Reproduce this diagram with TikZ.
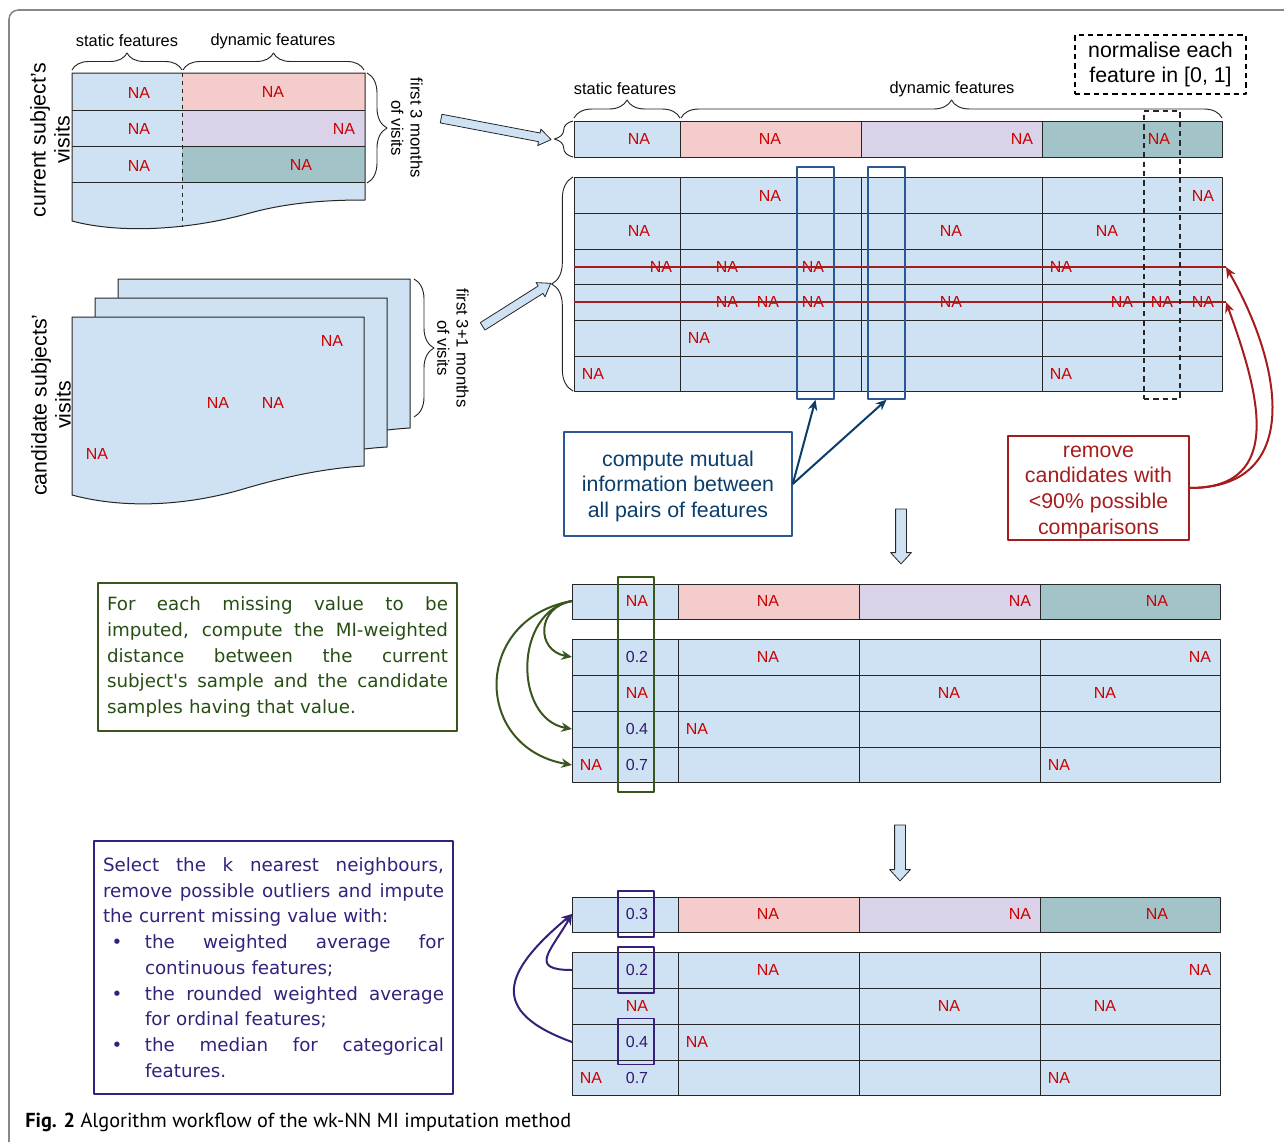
\documentclass[tikz,border=0pt]{standalone}
\usepackage{fontspec}
\setmainfont{Liberation Sans}
\newfontfamily\boxfont{DejaVu Sans}
\newfontfamily\capfont{PT Sans}
\usetikzlibrary{arrows.meta,shapes.arrows,decorations.pathreplacing}
\definecolor{cellblue}{HTML}{CFE2F3}
\definecolor{cellpink}{HTML}{F4CCCC}
\definecolor{celllav}{HTML}{D9D2E9}
\definecolor{cellteal}{HTML}{A2C4C9}
\definecolor{nared}{HTML}{CC0000}
\definecolor{valpurple}{HTML}{2E1A6E}
\definecolor{miblue}{HTML}{2B5797}
\definecolor{midark}{HTML}{0B3D6B}
\definecolor{rmred}{HTML}{A61C1C}
\definecolor{dgreen}{HTML}{38561D}
\definecolor{dgreentext}{HTML}{274E13}
\definecolor{knnpurple}{HTML}{35207A}
\definecolor{framegrey}{HTML}{888888}
\newcommand{\fullline}[1]{\leavevmode\hbox to \hsize{\spaceskip=.32em plus 2em\relax #1}}
\newcommand{\bulletline}[1]{\leavevmode\hbox to \hsize{\spaceskip=.32em plus 2em\relax\hbox to 31.5pt{\hspace{6.5pt}\textbullet\hfil}#1}}
\begin{document}
\begin{tikzpicture}[x=0.75pt, y=0.75pt, line join=round,
	grid/.style={draw=black!85, line width=0.75pt},
	na/.style={text=nared, font=\fontsize{12}{12}\selectfont, inner sep=0pt},
	val/.style={text=valpurple, font=\fontsize{12}{12}\selectfont, inner sep=0pt},
	lbl/.style={font=\fontsize{12.3}{14}\selectfont, inner sep=0pt},
	sidelbl/.style={font=\fontsize{16}{18}\selectfont, align=center, rotate=90, inner sep=0pt},
	monthlbl/.style={font=\fontsize{12.5}{14.5}\selectfont, align=center, rotate=-90, inner sep=0pt},
	brc/.style={decorate, decoration={brace, amplitude=#1}, draw=black!85, line width=0.7pt},
	brc/.default=13pt,
	fatarrow/.style={single arrow, draw=black!85, fill=cellblue, line width=0.6pt, inner xsep=0pt, inner ysep=3pt, single arrow head extend=3pt, single arrow tip angle=70, minimum width=0pt},
	downarrow/.style={fatarrow, inner ysep=3.75pt, single arrow head extend=3.75pt, single arrow tip angle=85, rotate=-90},
	colbox/.style={draw=#1, line width=1.1pt, minimum width=27pt, inner sep=0pt},
	textbox/.style={draw=#1, text=#1, line width=1.1pt, align=center, font=\fontsize{16}{19.3}\selectfont},
	parabox/.style={draw=#1, line width=1.1pt, align=left, font=\boxfont\fontsize{13.7}{19.3}\selectfont, text width=255.75pt, inner xsep=6.75pt},
	link/.style={draw=#1, line width=1.5pt, -{Stealth[length=8pt,width=7pt]}}
	]
	\useasboundingbox (0,0) rectangle (1284,-1142);
	\draw[framegrey, line width=1.2pt, rounded corners=7pt] (9,-1142) -- (9,-10) -- (1284,-10);
	
	\fill[cellblue] (72,-73) -- (365,-73) -- (365,-200) .. controls (330,-200) and (290,-202) .. (250,-213) .. controls (190,-230) and (120,-234) .. (72,-221) -- cycle;
	\foreach \ya/\yb/\cl in {73/110/cellpink,110/146/celllav,146/182/cellteal}
	\fill[\cl] (182,-\ya) rectangle (365,-\yb);
	\draw[grid] (72,-73) -- (365,-73) -- (365,-200) .. controls (330,-200) and (290,-202) .. (250,-213) .. controls (190,-230) and (120,-234) .. (72,-221) -- cycle;
	\foreach \y in {110,146,182}
	\draw[grid] (72,-\y) -- (365,-\y);
	\draw[grid, dashed] (182,-73) -- (182,-227);
	\foreach \x/\y in {139/93,273/92,139/129,344/129,139/166,301/165}
	\node[na] (cur-\x-\y) at (\x,-\y) {NA};
	\draw[brc=12.75pt] (72,-70) -- (182,-70);
	\draw[brc=12.75pt] (183,-70) -- (364,-70);
	\draw[brc=15pt] (367,-73) -- (367,-183);
	\node[lbl] (statl) at (127,-41) {static features};
	\node[lbl] (dynl) at (273,-41) {dynamic features};
	\node[sidelbl] (curl) at (50,-140) {current subject's\\visits};
	\node[monthlbl] (mthree) at (407,-128) {first 3 months\\of visits};
	
	\foreach \dx/\dy in {46/38,23/19,0/0}
	\filldraw[grid, fill=cellblue, shift={(\dx,\dy)}] (72,-317) -- (364,-317) -- (364,-466) .. controls (330,-468) and (290,-475) .. (240,-490) .. controls (180,-507) and (120,-508) .. (72,-495) -- cycle;
	\foreach \x/\y in {332/341,218/403,273/403,97/454}
	\node[na] (cand-\x-\y) at (\x,-\y) {NA};
	\draw[brc=15pt] (414,-279) -- (414,-417);
	\node[sidelbl] (candl) at (51,-405) {candidate subjects'\\visits};
	\node[monthlbl] (mfour) at (453,-348) {first 3+1 months\\of visits};
	
	\node[fatarrow, minimum height=84pt, rotate=-10.8] (tonorm) at (493,-128.5) {};
	\node[fatarrow, minimum height=60.4pt, rotate=32.3] (totab) at (514,-306.5) {};
	
	\node[textbox=black, dash pattern=on 4pt off 3pt, minimum width=128.25pt, minimum height=44.25pt] (normbox) at (1160.5,-64.5) {normalise each\\feature in [0, 1]};
	\node[lbl] (statr) at (625,-89) {static features};
	\node[lbl] (dynr) at (952,-89) {dynamic features};
	\draw[brc=13.5pt] (574,-118) -- (680,-118);
	\draw[brc=13.5pt] (681,-118) -- (1222,-118);
	\draw[brc=14pt] (573,-157) -- (573,-121);
	\draw[brc=16pt] (573,-391) -- (573,-177);
	
	\foreach \xa/\xb/\cl in {574/680/cellblue,680/861/cellpink,861/1042/celllav,1042/1222/cellteal}
	\fill[\cl] (\xa,-121) rectangle (\xb,-157);
	\draw[grid] (574,-121) rectangle (1222,-157);
	\fill[cellblue] (574,-177) rectangle (1222,-391);
	\foreach \y in {213,249,284,320,356}
	\draw[grid] (574,-\y) -- (1222,-\y);
	\foreach \x in {680,861,1042}
	\draw[grid] (\x,-121) -- (\x,-157) (\x,-177) -- (\x,-391);
	\draw[grid] (574,-177) rectangle (1222,-391);
	\foreach \x/\y in {639/139,770/139,1022/139,1159/139}
	\node[na] (norm-\x-\y) at (\x,-\y) {NA};
	\foreach \x/\y in {770/196,1203/196,639/231,951/231,1107/231,661/267,727/267,813/267,1061/267,727/302,768/302,813/302,951/302,1122/302,1162/302,1203/302,699/338,593/374,1061/374}
	\node[na] (tab-\x-\y) at (\x,-\y) {NA};
	
	\path (574,-267) coordinate (s1) (1226,-267) coordinate (e1)
	(574,-302) coordinate (s2) (1226,-302) coordinate (e2);
	\foreach \a/\b in {s1/e1,s2/e2}
	\draw[rmred, line width=1.8pt] (\a) -- (\b);
	\node[colbox=miblue, minimum width=27.75pt, minimum height=174pt] (mi1) at (815.5,-283) {};
	\node[colbox=miblue, minimum width=27.75pt, minimum height=174pt] (mi2) at (886.5,-283) {};
	\node[colbox=black!85, dash pattern=on 4pt off 3pt, minimum height=216pt] (normcol) at (1162,-255) {};
	
	\node[textbox=midark, draw=miblue, minimum width=171pt, minimum height=78pt] (mutinfo) at (678,-484) {\rule{0pt}{15pt}compute mutual\\information between\\all pairs of features};
	\node[textbox=rmred, inner ysep=1pt, minimum width=135.75pt, minimum height=78pt] (remove) at (1098.5,-488) {\rule{0pt}{15pt}remove\\candidates with\\<90\% possible\\comparisons};
	\foreach \t in {mi1,mi2}
	\draw[link=midark] (mutinfo.east) -- (\t.south);
	\draw[link=rmred] (remove.east) to[out=0, in=-60, looseness=1.3] (e1);
	\draw[link=rmred] (remove.east) to[out=0, in=-70, looseness=1.3] (e2);
	
	\node[downarrow, minimum height=41.25pt] (down1) at (901,-533.5) {};
	\node[downarrow, minimum height=42pt] (down2) at (900,-850) {};
	
	\foreach \dy/\blk/\firstval/\fc in {0/mid/NA/nared,313/bot/0.3/valpurple} {
		\foreach \xa/\xb/\cl in {572/678/cellblue,678/859/cellpink,859/1040/celllav,1040/1220/cellteal}
		\fill[\cl] (\xa,{-584-\dy}) rectangle (\xb,{-619-\dy});
		\fill[cellblue] (572,{-639-\dy}) rectangle (1220,{-782-\dy});
		\foreach \y in {675,711,747}
		\draw[grid] (572,{-\y-\dy}) -- (1220,{-\y-\dy});
		\foreach \x in {678,859,1040}
		\draw[grid] (\x,{-584-\dy}) -- (\x,{-619-\dy}) (\x,{-639-\dy}) -- (\x,{-782-\dy});
		\draw[grid] (572,{-584-\dy}) rectangle (1220,{-619-\dy}) (572,{-639-\dy}) rectangle (1220,{-782-\dy});
		\node[na, text=\fc] (\blk-first) at (637,{-601-\dy}) {\firstval};
		\foreach \x/\y in {768/601,1020/601,1157/601,768/657,1200/657,637/693,949/693,1105/693,697/729,591/765,1059/765}
		\node[na] (\blk-\x-\y) at (\x,{-\y-\dy}) {NA};
		\foreach \y/\vl in {657/0.2,729/0.4,765/0.7}
		\node[val] (\blk-v\y) at (637,{-\y-\dy}) {\vl};
	}
	
	\node[colbox=dgreen, minimum height=161.25pt] (micol) at (636,-684.5) {};
	\path (572,-601) coordinate (g0) (572,-657) coordinate (g1)
	(572,-729) coordinate (g2) (572,-765) coordinate (g3);
	\foreach \t/\l in {g1/1.67,g2/1.19,g3/1.58}
	\draw[link=dgreen] (g0) to[out=190, in=170, looseness=\l] (\t);
	
	\foreach \y/\nm in {914/k0,970/k1,1041.5/k2}
	\node[colbox=knnpurple, minimum height=34.5pt] (\nm) at (636,-\y) {};
	\path (572,-914) coordinate (p0) (572,-970) coordinate (p1) (572,-1042) coordinate (p2);
	\draw[link=knnpurple] (p1) to[out=180, in=240, looseness=2] (p0);
	\draw[link=knnpurple] (p2) to[out=160, in=220, looseness=1.8] (p0);
	
	\node[parabox=dgreen, text=dgreentext, minimum height=111pt] (distbox) at (277.5,-657) {%
		\fullline{For each missing value to be}\\
		\fullline{imputed, compute the MI-weighted}\\
		\fullline{distance between the current}\\
		\fullline{subject's sample and the candidate}\\
		samples having that value.};
	\node[parabox=knnpurple, text=knnpurple, minimum height=189.75pt] (knnbox) at (273.5,-967.5) {%
		\fullline{Select the k nearest neighbours,}\\
		\fullline{remove possible outliers and impute}\\
		the current missing value with:\\
		\bulletline{the weighted average for}\\
		\hspace*{31.5pt}continuous features;\\
		\bulletline{the rounded weighted average}\\
		\hspace*{31.5pt}for ordinal features;\\
		\bulletline{the median for categorical}\\
		\hspace*{31.5pt}features.};
	
	\node[anchor=west, inner sep=0pt, font=\capfont\fontsize{15.2}{17}\selectfont] (caption) at (25,-1122) {\textbf{Fig. 2} Algorithm workflow of the wk-NN MI imputation method};
\end{tikzpicture}
\end{document}
